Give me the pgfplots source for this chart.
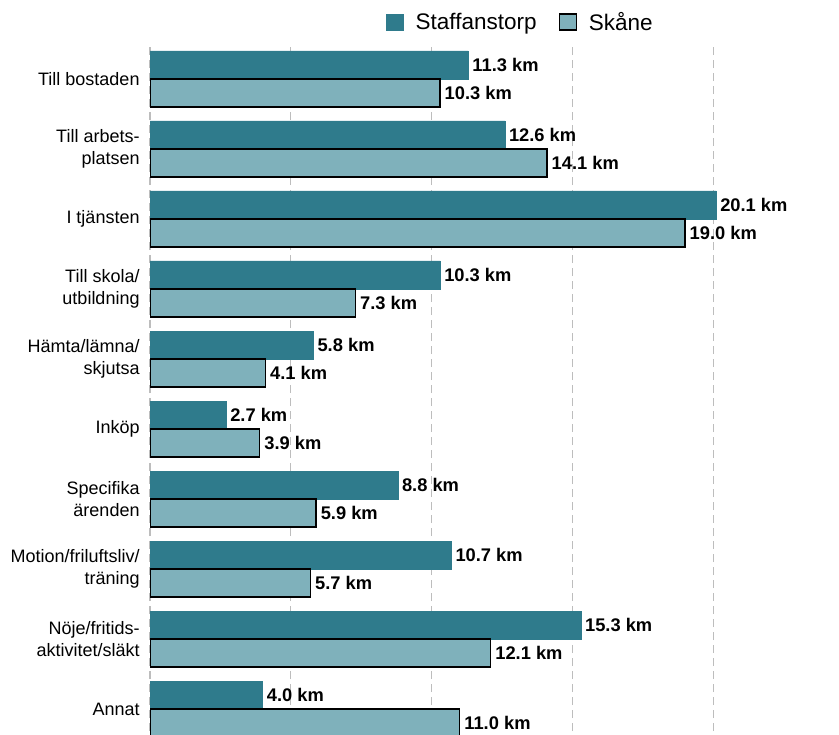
\documentclass[border=0pt]{standalone}
\usepackage{fontspec}
\setmainfont{Liberation Sans}
\usepackage{pgfplots}
\pgfplotsset{compat=1.18}

\definecolor{staffan}{HTML}{2F7B8C}
\definecolor{skane}{HTML}{7FB1BB}
\definecolor{gridgray}{HTML}{BDBDBD}

\begin{document}
\begin{tikzpicture}
\useasboundingbox (0bp,0bp) rectangle (839bp,-735bp);
\clip (0bp,0bp) rectangle (839bp,-735bp);
\begin{axis}[
    at={(150bp,-47bp)},
    anchor=north west,
    scale only axis,
    width=619.5bp,
    height=697bp,
    xbar,
    bar width=28bp,
    xmin=0, xmax=22,
    ymin=-0.5, ymax=9.457,
    xtick={0,5,10,15,20},
    xticklabels={},
    ytick={0,...,9},
    yticklabels={Annat,{Nöje/fritids-\\aktivitet/släkt},{Motion/friluftsliv/\\träning},{Specifika\\ärenden},Inköp,{Hämta/lämna/\\skjutsa},{Till skola/\\utbildning},I tjänsten,{Till arbets-\\platsen},Till bostaden},
    yticklabel style={align=right, font=\fontsize{18bp}{22bp}\selectfont, inner sep=0pt, xshift=-6bp},
    axis line style={draw=none},
    major tick style={draw=none},
    xmajorgrids=true,
    grid style={draw=gridgray, line width=1.3bp, dash pattern=on 8bp off 5bp},
    /pgf/number format/assume math mode=true,
    nodes near coords={\pgfmathprintnumber[fixed,fixed zerofill,precision=1]{\pgfplotspointmeta}~km},
    every node near coord/.append style={font=\bfseries\fontsize{18.3bp}{18bp}\selectfont, anchor=west, inner sep=0pt, xshift=4bp},
    legend columns=2,
    legend style={draw=none, fill=none, at={(axis description cs:0.381,1.0359)}, anchor=west,
        font=\fontsize{22.5bp}{22bp}\selectfont, inner sep=0pt,
        /tikz/every odd column/.append style={column sep=10bp},
        /tikz/every even column/.append style={column sep=20bp}},
    legend image code/.code={\draw[#1] (0bp,-8bp) rectangle (17bp,8bp);},
]
\addplot[fill=staffan, draw=staffan, line width=0.5bp, bar shift=14bp] coordinates {
    (11.3,9) (12.6,8) (20.1,7) (10.3,6) (5.8,5) (2.7,4) (8.8,3) (10.7,2) (15.3,1) (4.0,0)
};
\addlegendentry{Staffanstorp}
\addplot[fill=skane, draw=black, line width=1.3bp, bar shift=-14bp] coordinates {
    (10.3,9) (14.1,8) (19.0,7) (7.3,6) (4.1,5) (3.9,4) (5.9,3) (5.7,2) (12.1,1) (11.0,0)
};
\addlegendentry{Skåne}
\end{axis}
\end{tikzpicture}
\end{document}
